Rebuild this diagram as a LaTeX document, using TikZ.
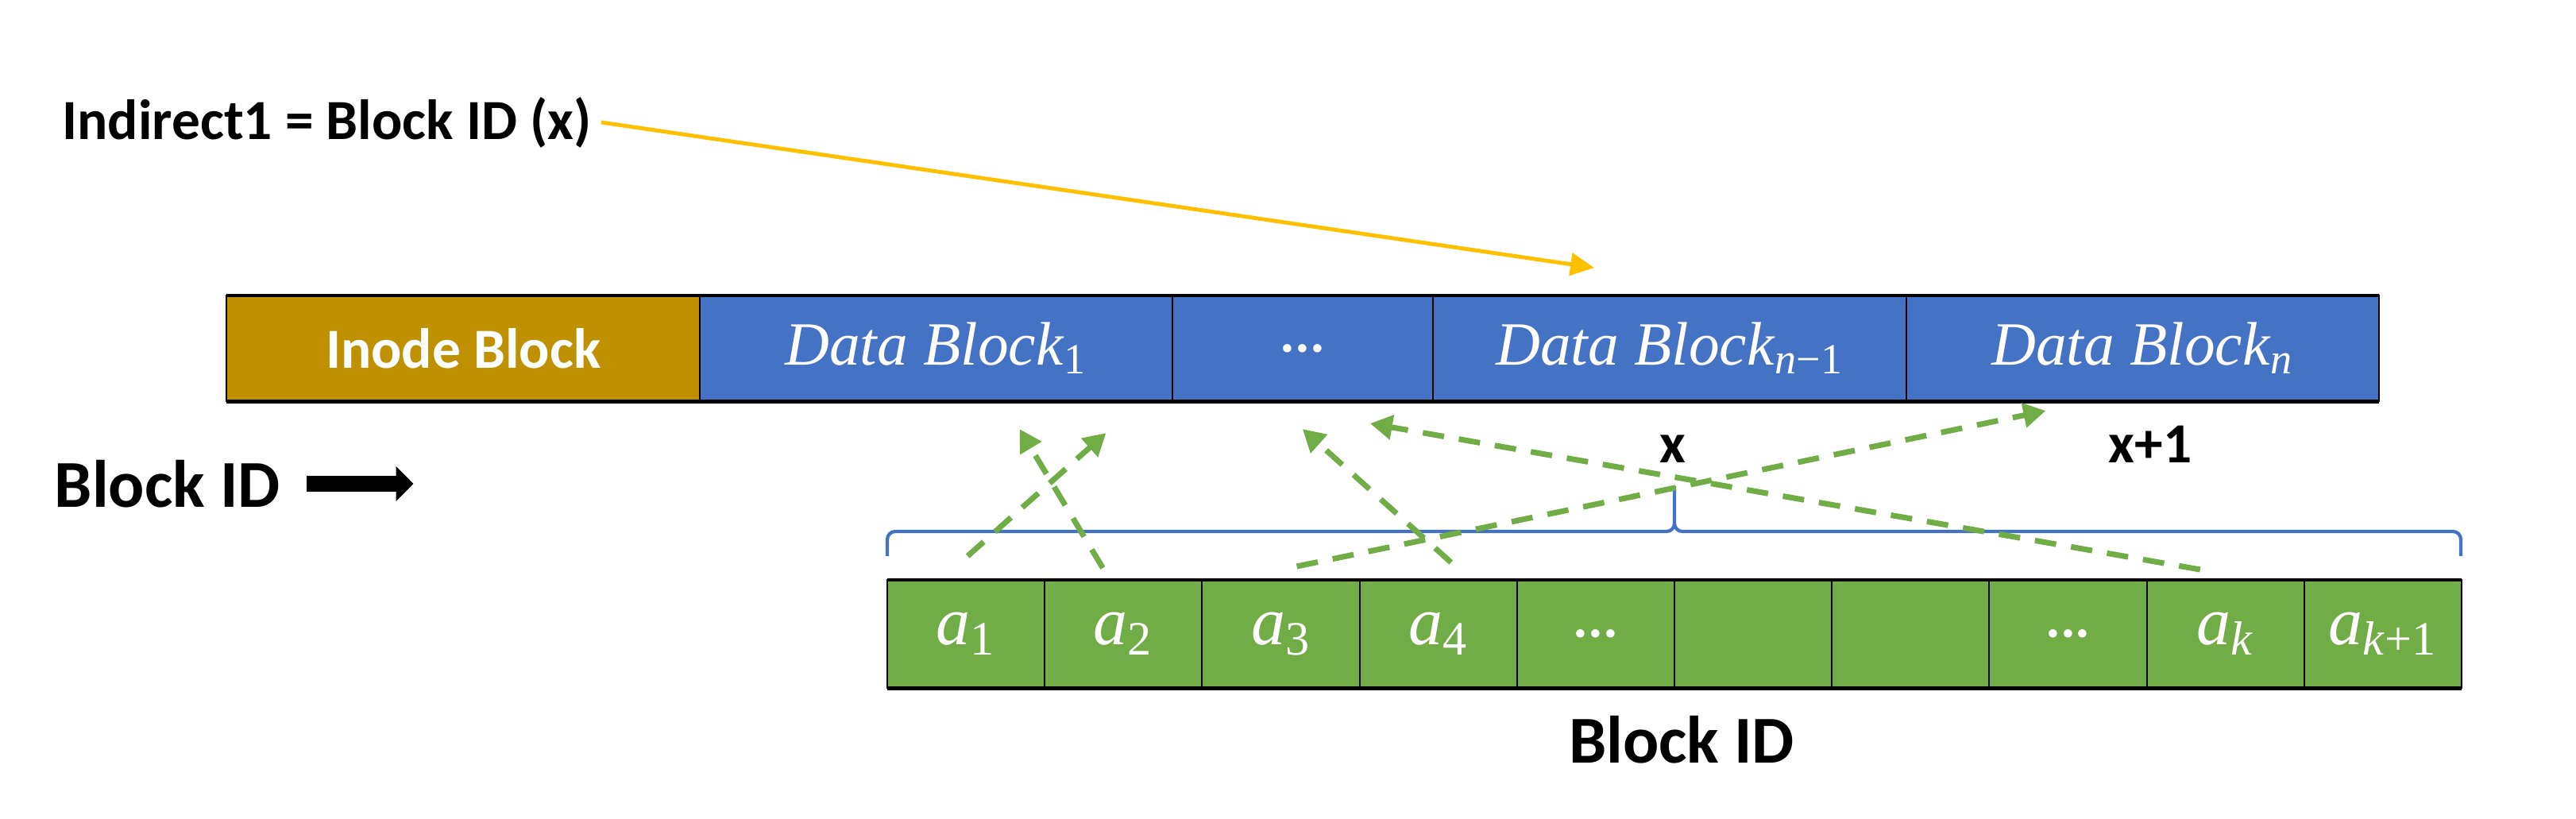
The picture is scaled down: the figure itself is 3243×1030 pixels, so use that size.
\documentclass[tikz,border=0pt]{standalone}
\usepackage{fontspec}
\newfontfamily\calibri{Carlito}
\newfontfamily\cambria{Liberation Serif}
\usetikzlibrary{positioning,arrows.meta}
\definecolor{inodegold}{HTML}{BF9000}
\definecolor{datablue}{HTML}{4472C4}
\definecolor{idgreen}{HTML}{70AD47}
\definecolor{ptryellow}{HTML}{FFC000}
\newcommand\celldots{{\calibri\bfseries\fontsize{20}{24}\selectfont ...}}
\newcommand\dblk[1]{\textit{Data Block}\textsubscript{#1}}
\newcommand\acell[1]{\textit{a}\textsubscript{#1}}
\begin{document}
\begin{tikzpicture}[x=0.01cm,y=-0.01cm]
        \tikzstyle{blk}=[draw=black, line width=0.6pt, minimum height=1.33cm, inner sep=0pt, outer sep=0pt, text=white, font=\cambria\fontsize{22}{26}\selectfont]
        \tikzstyle{idcell}=[blk, fill=idgreen, minimum width=1.982cm, minimum height=1.36cm, anchor=north west, font=\cambria\fontsize{24.5}{28}\selectfont]
        \tikzstyle{lbl}=[font=\calibri\bfseries\fontsize{20.3}{24}\selectfont]
        \tikzstyle{big}=[font=\calibri\bfseries\fontsize{24}{28}\selectfont]
        \tikzstyle{ptr}=[idgreen, line width=2pt, dash pattern=on 0.27cm off 0.19cm, -{Triangle[length=0.28cm,width=0.3cm]}]
        \useasboundingbox (0,0) rectangle (3243,1030);
        \node[blk, fill=inodegold, minimum width=5.96cm, anchor=north west, lbl] (inode) at (285,372) {Inode Block};
        \node[blk, fill=datablue, minimum width=5.94cm, right=0pt of inode] (db1) {\dblk{1}};
        \node[blk, fill=datablue, minimum width=3.28cm, right=0pt of db1] (dbdots) {\celldots};
        \node[blk, fill=datablue, minimum width=5.96cm, right=0pt of dbdots] (dbn1) {\dblk{\textit{n}−1}};
        \node[blk, fill=datablue, minimum width=5.94cm, right=0pt of dbn1] (dbn) {\dblk{\textit{n}}};
        \draw[line width=1.4pt] (inode.north west) -- (dbn.north east) (inode.south west) -- (dbn.south east);
        \foreach \lab [count=\i] in {\acell{1},\acell{2},\acell{3},\acell{4},\celldots,{},{},\celldots,\acell{\textit{k}},\acell{\textit{k}+1}}
            \node[idcell] (c\i) at ({1117+(\i-1)*198.2},730) {\lab};
        \draw[line width=1.4pt] (c1.north west) -- (c10.north east) (c1.south west) -- (c10.south east);
        \node[lbl, anchor=west] (ind) at (66,154) {Indirect1 = Block ID (x)};
        \draw[ptryellow, line width=1.4pt, -{Triangle[length=0.3cm,width=0.28cm]}] (ind.east) -- ([shift={(-95,-35)}]dbn1.north);
        \node[big, anchor=west, inner sep=0pt] (bid) at (68,609) {Block ID};
        \draw[line width=0.2cm, -{Triangle[length=0.22cm,width=0.43cm]}] ([xshift=0.33cm]bid.east) -- ([xshift=1.67cm]bid.east);
        \node[lbl] (xl) at (2106,565) {x};
        \node[lbl] (xl1) at (2707,559) {x+1};
        \node[big] (bidb) at (2117,931) {Block ID};
        \coordinate (bl) at (1117,700);
        \coordinate (br) at (3098,700);
        \coordinate (bh) at (2108,669);
        \coordinate (bm) at (2108,612);
        \draw[datablue, line width=1.2pt, rounded corners=0.1cm] (bl) |- (bh) -- (bm) (br) |- (bh) -- (bm);
        \draw[ptr] ([shift={(-26,-15)}]c2.north) -- ([shift={(105,35)}]db1.south);
        \draw[ptr] ([shift={(2,-30)}]c1.north) -- ([shift={(214,40)}]db1.south);
        \draw[ptr] ([shift={(16,-22)}]c4.north) -- ([shift={(0,35)}]dbdots.south);
        \draw[ptr] ([shift={(-32,-13)}]c9.north) -- ([shift={(85,28)}]dbdots.south);
        \draw[ptr] ([shift={(20,-17)}]c3.north) -- ([shift={(-122,12)}]dbn.south);
    \end{tikzpicture}
\end{document}
